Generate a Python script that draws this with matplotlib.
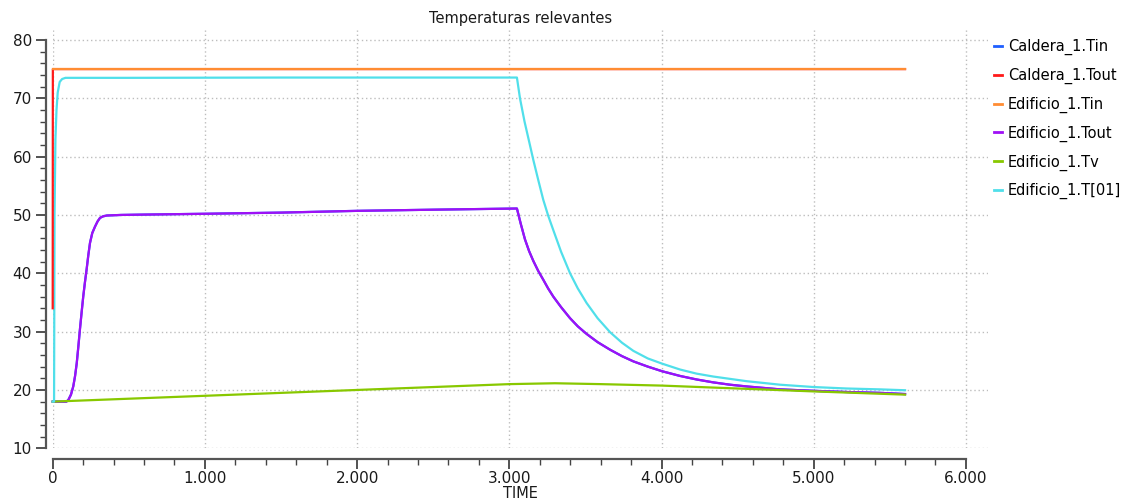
import matplotlib
matplotlib.use("Agg")
import matplotlib.pyplot as plt
from matplotlib.ticker import MultipleLocator, FuncFormatter

# ---- data ----
t_edif_tout = [0, 90, 103, 120, 135, 147, 158, 168, 179, 190, 201, 212, 223, 234, 245, 260,
               278, 295, 311, 330, 355, 450, 573, 1000, 1500, 2000, 2500, 3050,
               3075, 3103, 3130, 3158, 3190, 3223, 3255, 3289, 3340, 3399, 3450, 3508,
               3580, 3662, 3740, 3815, 3910, 4005, 4122, 4230, 4340, 4450, 4560, 4670,
               4779, 5000, 5217, 5436, 5600]
v_edif_tout = [18, 18, 18.3, 19.2, 20.6, 22.4, 24.6, 27.3, 30.4, 33.3, 36.1, 38.5, 40.7, 43.1, 45.2, 46.9,
               48.0, 48.9, 49.5, 49.75, 49.9, 50.0, 50.05, 50.2, 50.4, 50.7, 50.9, 51.1,
               48.5, 45.8, 43.8, 42.1, 40.4, 38.9, 37.4, 36.0, 34.2, 32.3, 30.9, 29.6,
               28.2, 26.9, 25.8, 24.9, 24.0, 23.2, 22.4, 21.8, 21.3, 20.9, 20.6, 20.35,
               20.1, 19.85, 19.65, 19.5, 19.3]

t_cald_tin = t_edif_tout
v_cald_tin = v_edif_tout

t_cald_tout = [0, 1, 5600]
v_cald_tout = [34, 75, 75]

t_edif_tin = [0, 5600]
v_edif_tin = [75, 75]

t_edif_tv = [0, 1000, 2000, 3000, 3300, 3600, 4000, 4500, 5000, 5600]
v_edif_tv = [18.0, 19.0, 20.0, 21.0, 21.15, 21.0, 20.75, 20.25, 19.75, 19.2]

t_edif_t01 = [0, 9, 12, 18, 25, 33, 46, 62, 84, 500, 1500, 3050,
              3070, 3100, 3130, 3158, 3190, 3223, 3255, 3289, 3340, 3399, 3450, 3508,
              3580, 3662, 3740, 3815, 3910, 4005, 4122, 4230, 4340, 4450, 4560, 4670,
              4779, 5000, 5217, 5436, 5600]
v_edif_t01 = [18, 18, 50, 63, 68, 71, 72.8, 73.3, 73.5, 73.5, 73.55, 73.55,
              70.0, 66.0, 62.6, 59.4, 56.0, 52.6, 49.9, 47.4, 43.7, 40.0, 37.4, 34.9,
              32.3, 29.9, 28.1, 26.7, 25.4, 24.5, 23.5, 22.8, 22.3, 21.9, 21.5, 21.2,
              20.9, 20.5, 20.25, 20.1, 19.95]

labels = ["Caldera_1.Tin", "Caldera_1.Tout", "Edificio_1.Tin",
          "Edificio_1.Tout", "Edificio_1.Tv", "Edificio_1.T[01]"]
colors = ["#1f5fff", "#ff1a1a", "#ff8c33", "#9f10f5", "#88c800", "#50dfea"]
zorders = [2.0, 2.4, 2.5, 2.1, 2.2, 2.3]

series = [(t_cald_tin, v_cald_tin), (t_cald_tout, v_cald_tout), (t_edif_tin, v_edif_tin),
          (t_edif_tout, v_edif_tout), (t_edif_tv, v_edif_tv), (t_edif_t01, v_edif_t01)]

plt.rcParams['font.family'] = ['DejaVu Sans']

W, H = 1132, 504
fig = plt.figure(figsize=(W / 100, H / 100), dpi=100)
left, right, bottom, top = 52.7, 988, 448.3, 30
ax = fig.add_axes([left / W, 1 - bottom / H, (right - left) / W, (bottom - top) / H])

handles = []
for (t, v), c, lab, z in zip(series, colors, labels, zorders):
    h, = ax.plot(t, v, color=c, lw=1.6, label=lab, zorder=z, clip_on=False)
    handles.append(h)

ax.set_xlim(0, 6145)
ax.set_ylim(10, 81.7)

ax.xaxis.set_major_locator(MultipleLocator(1000))
ax.xaxis.set_minor_locator(MultipleLocator(200))
ax.yaxis.set_major_locator(MultipleLocator(10))
ax.yaxis.set_minor_locator(MultipleLocator(2))


def fmt(x, pos):
    if x == 0:
        return "0"
    return f"{int(round(x)):,}".replace(",", ".")


ax.xaxis.set_major_formatter(FuncFormatter(fmt))

ax.grid(True, which='major', color='#bdbdbd', linestyle=(0, (1, 2)), linewidth=1.0)

for s in ['top', 'right']:
    ax.spines[s].set_visible(False)
ax.spines['left'].set_position(('outward', 5))
ax.spines['bottom'].set_position(('outward', 8))
ax.spines['left'].set_bounds(10, 80)
ax.spines['bottom'].set_bounds(0, 6000)
for s in ['left', 'bottom']:
    ax.spines[s].set_color('#555555')
    ax.spines[s].set_linewidth(1.6)

ax.tick_params(axis='both', which='major', length=7, width=1.3, color='#444444',
               labelsize=11, labelcolor='#1a1a1a')
ax.tick_params(axis='both', which='minor', length=4, width=1.0, color='#444444')
ax.tick_params(axis='x', pad=1.5)
ax.tick_params(axis='y', pad=3)

ax.set_xlabel("TIME", fontsize=10.5, color='#1a1a1a', labelpad=0)
ax.set_title("Temperaturas relevantes", fontsize=10.5, color='#1a1a1a', pad=5)

leg = fig.legend(handles=handles, labels=labels, loc='upper left',
                 bbox_to_anchor=(988 / W, 1 - 33 / H), frameon=False,
                 handlelength=0.57, handletextpad=0.4, labelspacing=0.87,
                 fontsize=10.5, borderaxespad=0)
for line in leg.get_lines():
    line.set_linewidth(2)

fig.savefig("out.png", dpi=100)
